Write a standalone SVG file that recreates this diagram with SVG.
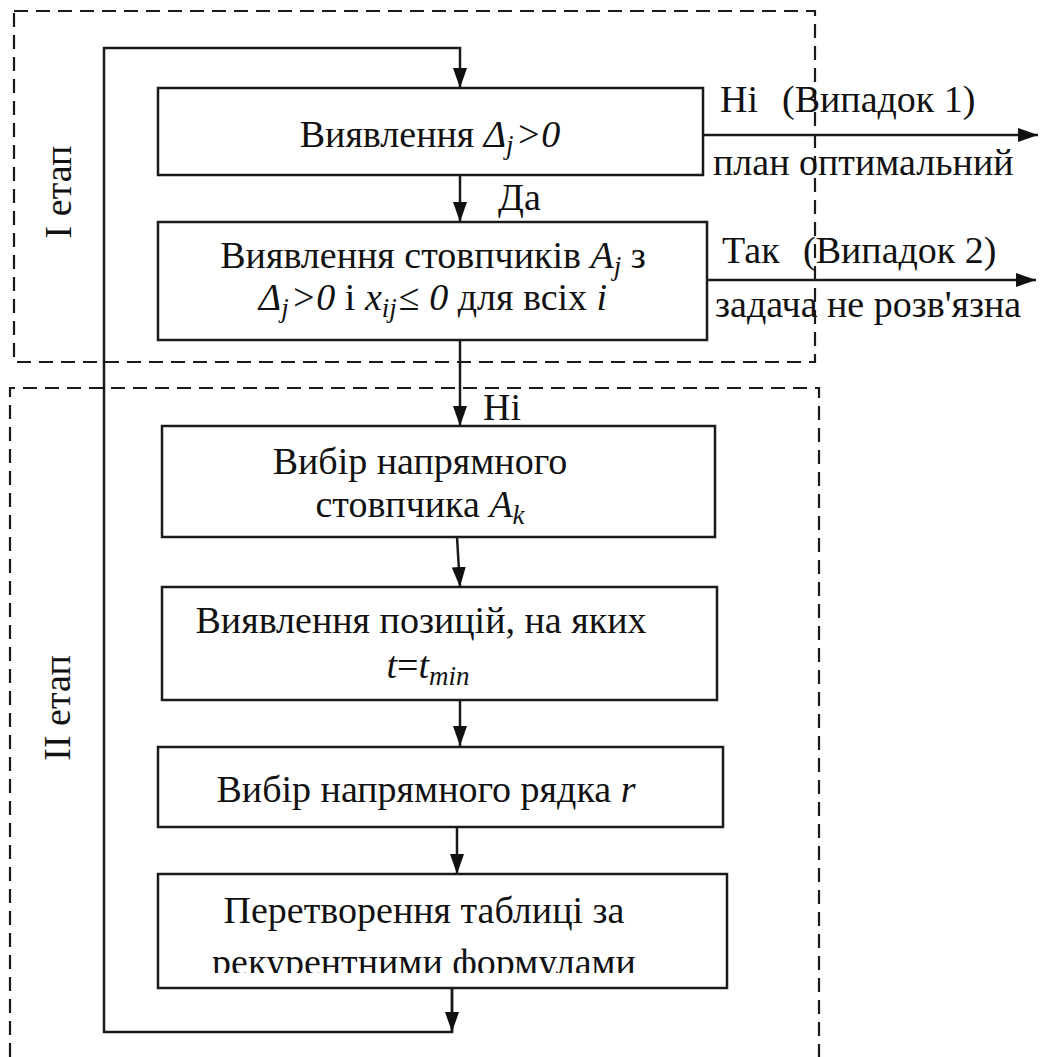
<svg xmlns="http://www.w3.org/2000/svg" width="1040" height="1057" viewBox="0 0 1040 1057">
  <style>
    text { font-family: "Liberation Serif", "Times New Roman", serif; font-size: 38px; fill: #111; }
    .c { text-anchor: middle; }
    .i { font-style: italic; }
    .box { fill: #fff; stroke: #1a1a1a; stroke-width: 2.5; }
    .ln { fill: none; stroke: #1a1a1a; stroke-width: 2.5; }
    .dash { fill: none; stroke: #1a1a1a; stroke-width: 2.2; stroke-dasharray: 14 8; }
  </style>
  <defs>
    <marker id="arr" viewBox="0 0 20 14" refX="20" refY="7" markerWidth="20" markerHeight="14" markerUnits="userSpaceOnUse" orient="auto">
      <path d="M0,0 L20,7 L0,14 Z" fill="#111"/>
    </marker>
    <!-- the lower line of the last step is cut by its text frame -->
    <clipPath id="clip6">
      <rect x="158" y="874" width="569" height="99"/>
    </clipPath>
  </defs>

  <rect width="1040" height="1057" fill="#fff"/>

  <!-- stage frames -->
  <g id="stage1">
    <rect class="dash" x="14" y="11" width="801" height="351"/>
    <text transform="translate(71,192) rotate(-90)" class="c">I етап</text>
  </g>
  <g id="stage2">
    <path class="dash" d="M10,1057 V388 H819 V1057"/>
    <text transform="translate(70,708) rotate(-90)" class="c">II етап</text>
  </g>

  <!-- connectors and their labels -->
  <g id="connectors">
    <path class="ln" d="M452,988 V1032 H104 V48 H460 V88" marker-end="url(#arr)"/>
    <path class="ln" d="M452,988 V1032" marker-end="url(#arr)"/>
    <path class="ln" d="M460,175 V222" marker-end="url(#arr)"/>
    <path class="ln" d="M460,340 V426" marker-end="url(#arr)"/>
    <path class="ln" d="M457,537 L460,587" marker-end="url(#arr)"/>
    <path class="ln" d="M460,700 V746" marker-end="url(#arr)"/>
    <path class="ln" d="M457,827 V874" marker-end="url(#arr)"/>
    <path class="ln" d="M703,135 H1038" marker-end="url(#arr)"/>
    <path class="ln" d="M707,280 H1036" marker-end="url(#arr)"/>
    <text x="498" y="210">Да</text>
    <text x="483" y="420">Ні</text>
    <text x="720" y="112">Ні<tspan x="782">(Випадок 1)</tspan></text>
    <text x="713" y="175">план оптимальний</text>
    <text x="722" y="263">Так<tspan x="803">(Випадок 2)</tspan></text>
    <text x="715" y="317">задача не розв'язна</text>
  </g>

  <!-- process steps -->
  <g id="n1">
    <rect class="box" x="158" y="88" width="545" height="87"/>
    <text class="c" x="430" y="147">Виявлення <tspan class="i">Δ</tspan><tspan class="i" font-size="27" dy="7">j</tspan><tspan class="i" dy="-7" dx="2">&gt;0</tspan></text>
  </g>
  <g id="n2">
    <rect class="box" x="158" y="222" width="549" height="118"/>
    <text class="c" x="433" y="268">Виявлення стовпчиків <tspan class="i">A</tspan><tspan class="i" font-size="27" dy="7">j</tspan><tspan dy="-7"> з</tspan></text>
    <text class="c" x="433" y="310"><tspan class="i">Δ</tspan><tspan class="i" font-size="27" dy="7">j</tspan><tspan class="i" dy="-7" dx="2">&gt;0</tspan> і <tspan class="i">x</tspan><tspan class="i" font-size="27" dy="7">ij</tspan><tspan dy="-7" dx="2">≤ </tspan><tspan class="i">0</tspan> для всіх <tspan class="i">i</tspan></text>
  </g>
  <g id="n3">
    <rect class="box" x="162" y="426" width="553" height="111"/>
    <text class="c" x="420" y="474">Вибір напрямного</text>
    <text class="c" x="420" y="517">стовпчика <tspan class="i">A</tspan><tspan class="i" font-size="27" dy="7">k</tspan></text>
  </g>
  <g id="n4">
    <rect class="box" x="162" y="587" width="555" height="113"/>
    <text class="c" x="421" y="633">Виявлення позицій, на яких</text>
    <text class="c" x="428" y="678"><tspan class="i">t</tspan>=<tspan class="i">t</tspan><tspan class="i" font-size="27" dy="7">min</tspan></text>
  </g>
  <g id="n5">
    <rect class="box" x="158" y="747" width="565" height="80"/>
    <text class="c" x="426" y="802">Вибір напрямного рядка <tspan class="i">r</tspan></text>
  </g>
  <g id="n6">
    <rect class="box" x="158" y="874" width="569" height="114"/>
    <text class="c" x="424" y="923">Перетворення таблиці за</text>
    <text class="c" x="424" y="975" clip-path="url(#clip6)">рекурентними формулами</text>
  </g>
</svg>
